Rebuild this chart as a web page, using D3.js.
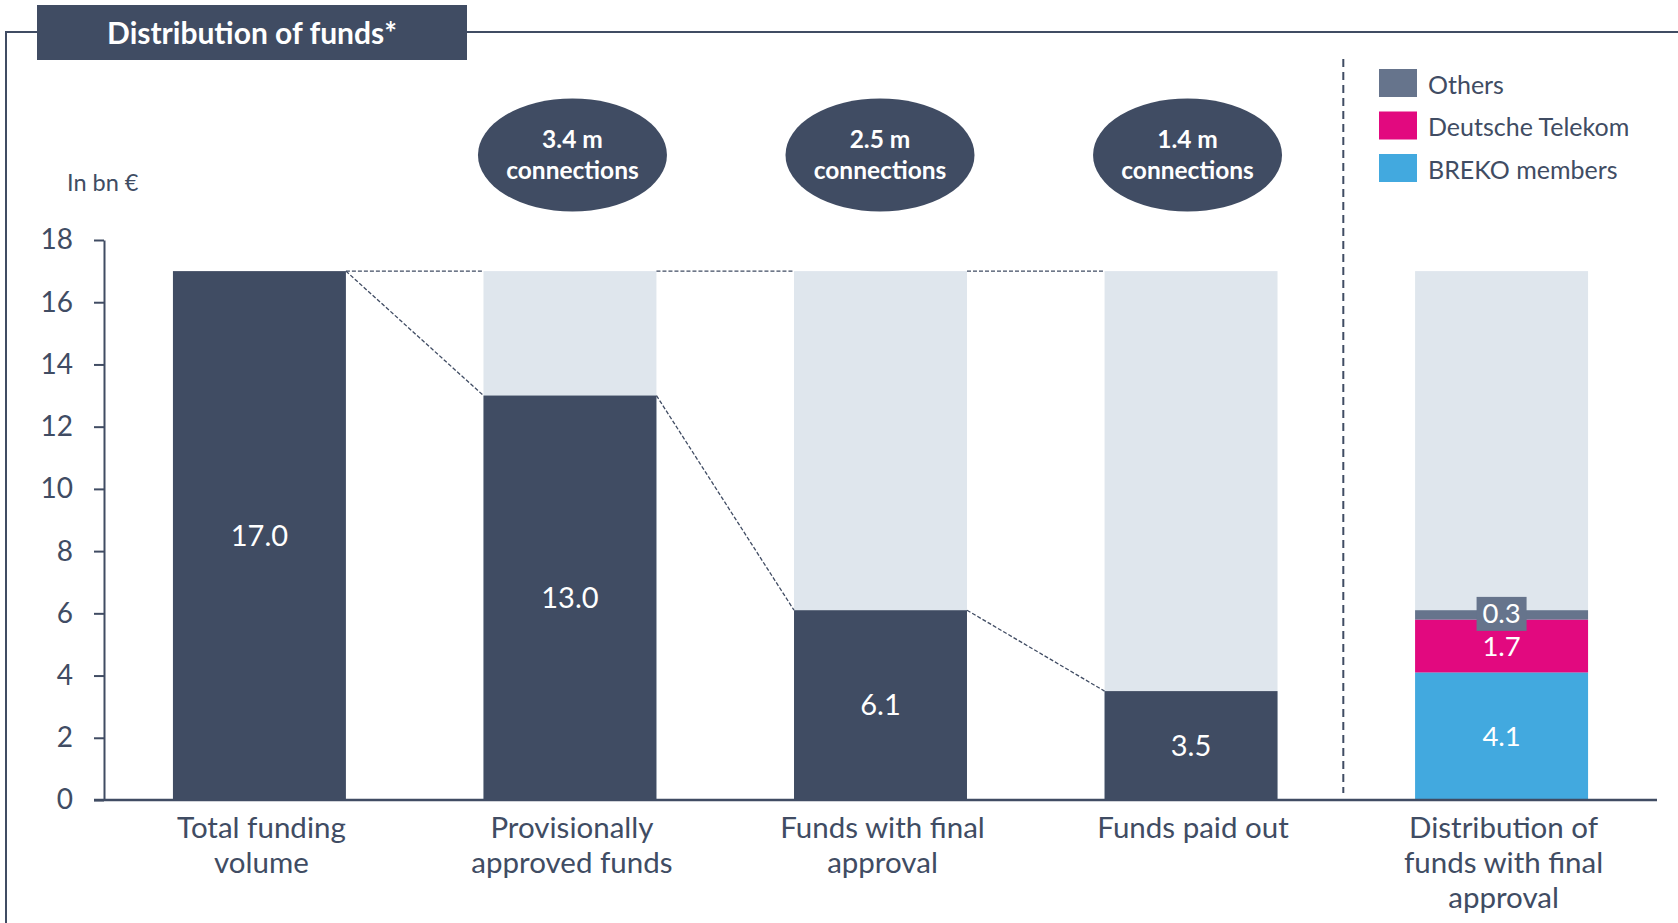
<!DOCTYPE html>
<html>
<head>
<meta charset="utf-8">
<script src="https://cdn.jsdelivr.net/npm/d3@7"></script>
<style>
  body { margin: 0; background: #fff; }
  svg { display: block; font-family: Lato, "Open Sans", sans-serif; }
</style>
</head>
<body>
<svg id="chart"></svg>
<script>
// data
const categories = ["Total funding volume", "Provisionally approved funds", "Funds with final approval", "Funds paid out", "Distribution of funds with final approval"];
const categoryLines = [["Total funding", "volume"], ["Provisionally", "approved funds"], ["Funds with final", "approval"], ["Funds paid out"], ["Distribution of", "funds with final", "approval"]];
const fundValues = [17.0, 13.0, 6.1, 3.5];
const totalVolume = 17.0;
const connections = ["3.4 m", "2.5 m", "1.4 m"];
const splitSeries = ["BREKO members", "Deutsche Telekom", "Others"];
const splitValues = [4.1, 1.7, 0.3];
const legendOrder = ["Others", "Deutsche Telekom", "BREKO members"];
const yTicks = [0, 2, 4, 6, 8, 10, 12, 14, 16, 18];

const W = 1678, H = 923;
const dark = "#404c63", light = "#dfe6ed";
const splitColor = d3.scaleOrdinal().domain(splitSeries).range(["#42a9df", "#e2097f", "#66748c"]);

const svg = d3.select("#chart").attr("width", W).attr("height", H);

const x = d3.scaleBand().domain(categories).range([104, 1657]).paddingInner(0.443).paddingOuter(0.222);
const y = d3.scaleLinear().domain([0, 18]).range([800, 240]);
const bw = x.bandwidth();

// frame + title box
svg.append("path")
  .attr("d", `M${W},32 H467 M37,32 H6 V${H}`)
  .attr("fill", "none").attr("stroke", dark).attr("stroke-width", 2);
svg.append("rect").attr("x", 37).attr("y", 5).attr("width", 430).attr("height", 55).attr("fill", dark);
svg.append("text").attr("x", 252).attr("y", 44).attr("text-anchor", "middle")
  .attr("fill", "#fff").attr("font-size", 30).attr("font-weight", 700)
  .text("Distribution of funds*");

// unit label
svg.append("text").attr("x", 67).attr("y", 191).attr("fill", dark).attr("font-size", 23.5).text("In bn €");

// y axis
const yAxis = svg.append("g").attr("transform", "translate(104,0)")
  .call(d3.axisLeft(y).tickValues(yTicks).tickSize(10).tickSizeOuter(0).tickPadding(21));
yAxis.selectAll("path,line").attr("stroke", dark).attr("stroke-width", 2);
yAxis.selectAll("text").attr("fill", dark).attr("font-size", 28).attr("font-family", "Lato, sans-serif");

// light background bars (full volume) for bars 2-5
svg.append("g").selectAll("rect")
  .data(categories.slice(1))
  .join("rect")
  .attr("x", d => x(d)).attr("width", bw)
  .attr("y", y(totalVolume)).attr("height", y(0) - y(totalVolume))
  .attr("fill", light);

// dark bars
const fundCats = categories.slice(0, 4);
svg.append("g").selectAll("rect")
  .data(fundValues)
  .join("rect")
  .attr("x", (d, i) => x(fundCats[i])).attr("width", bw)
  .attr("y", d => y(d)).attr("height", d => y(0) - y(d))
  .attr("fill", dark);

svg.append("g").selectAll("text")
  .data(fundValues)
  .join("text")
  .attr("x", (d, i) => x(fundCats[i]) + bw / 2)
  .attr("y", d => y(d / 2))
  .attr("dy", "0.35em").attr("text-anchor", "middle")
  .attr("fill", "#fff").attr("font-size", 29)
  .text(d => d.toFixed(1));

// dashed connectors
const conn = svg.append("g").attr("fill", "none").attr("stroke", dark)
  .attr("stroke-width", 1.3).attr("stroke-dasharray", "4,2");
for (let i = 0; i < fundValues.length - 1; i++) {
  const x1 = x(fundCats[i]) + bw, x2 = x(fundCats[i + 1]);
  conn.append("line").attr("x1", x1).attr("x2", x2).attr("y1", y(totalVolume)).attr("y2", y(totalVolume));
  conn.append("line").attr("x1", x1).attr("x2", x2).attr("y1", y(fundValues[i])).attr("y2", y(fundValues[i + 1]));
}

// stacked split bar
const stackData = [Object.fromEntries(splitSeries.map((s, i) => [s, splitValues[i]]))];
const stacked = d3.stack().keys(splitSeries)(stackData);
const splitCat = categories[4];
svg.append("g").selectAll("rect")
  .data(stacked)
  .join("rect")
  .attr("x", x(splitCat)).attr("width", bw)
  .attr("y", d => y(d[0][1])).attr("height", d => y(d[0][0]) - y(d[0][1]))
  .attr("fill", d => splitColor(d.key));

const splitLabels = svg.append("g");
stacked.forEach(s => {
  const isOthers = s.key === "Others";
  const cy = y((s[0][0] + s[0][1]) / 2) + (isOthers ? -2 : 0);
  const cx = x(splitCat) + bw / 2;
  if (isOthers) {
    splitLabels.append("rect").attr("x", cx - 25).attr("y", cy - 16).attr("width", 50).attr("height", 34)
      .attr("fill", splitColor(s.key));
  }
  splitLabels.append("text").attr("x", cx).attr("y", cy).attr("dy", "0.35em")
    .attr("text-anchor", "middle").attr("fill", "#fff").attr("font-size", 27.5)
    .text((s[0][1] - s[0][0]).toFixed(1));
});

// separator
const sepX = (x(categories[3]) + bw + x(categories[4])) / 2 - 3;
svg.append("line").attr("x1", sepX).attr("x2", sepX).attr("y1", 59).attr("y2", 793)
  .attr("stroke", dark).attr("stroke-width", 2).attr("stroke-dasharray", "8,5");

// x baseline
svg.append("line").attr("x1", 94).attr("x2", 1657).attr("y1", y(0)).attr("y2", y(0))
  .attr("stroke", dark).attr("stroke-width", 2.5);

// category labels
svg.append("g").selectAll("text")
  .data(categories)
  .join("text")
  .attr("text-anchor", "middle").attr("fill", dark).attr("font-size", 29.5)
  .each(function(d, i) {
    d3.select(this).selectAll("tspan").data(categoryLines[i]).join("tspan")
      .attr("x", x(d) + bw / 2 + 2)
      .attr("y", (l, j) => 838 + j * 35)
      .text(l => l);
  });

// connection ellipses
const ellCats = categories.slice(1, 4);
const ell = svg.append("g").selectAll("g")
  .data(connections)
  .join("g")
  .attr("transform", (d, i) => `translate(${x(ellCats[i]) + bw / 2 + 2.5 - i * 3},155)`);
ell.append("ellipse").attr("rx", 94.5).attr("ry", 56.5).attr("fill", dark);
ell.append("text").attr("y", -7).attr("text-anchor", "middle")
  .attr("fill", "#fff").attr("font-size", 24.5).attr("font-weight", 700).text(d => d);
ell.append("text").attr("y", 24).attr("text-anchor", "middle")
  .attr("fill", "#fff").attr("font-size", 24.5).attr("font-weight", 700).text("connections");

// legend
const legend = svg.append("g").selectAll("g")
  .data(legendOrder)
  .join("g")
  .attr("transform", (d, i) => `translate(1379,${69 + i * 42.5})`);
legend.append("rect").attr("width", 38).attr("height", 28).attr("fill", d => splitColor(d));
legend.append("text").attr("x", 49).attr("y", 16).attr("dy", "0.35em")
  .attr("fill", dark).attr("font-size", 25).text(d => d);
</script>
</body>
</html>
